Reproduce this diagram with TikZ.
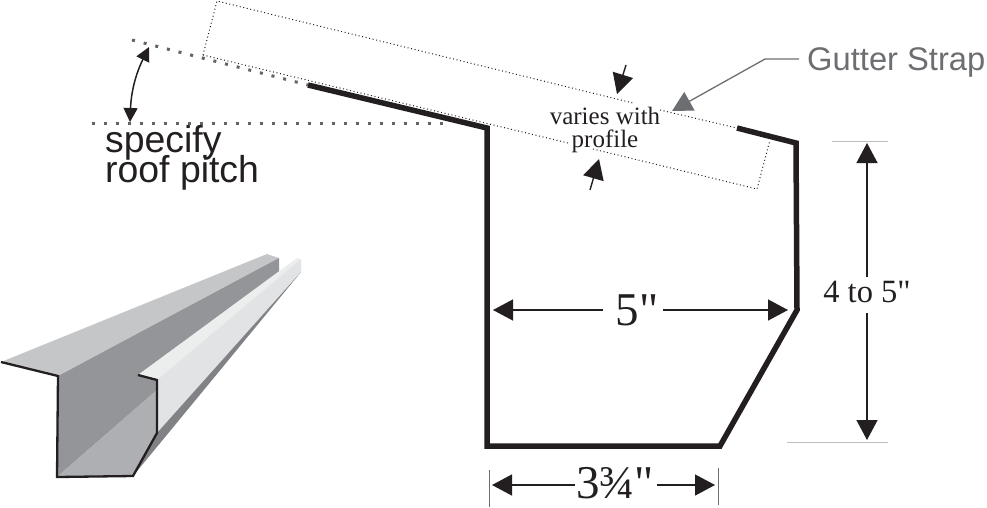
\documentclass[tikz,border=0pt]{standalone}
\usepackage{fontspec}
\newfontfamily\labelserif{Liberation Serif}
\newfontfamily\labelsans{Liberation Sans}
\usetikzlibrary{arrows.meta,positioning}
\definecolor{inkblack}{HTML}{231F20}
\definecolor{leadgray}{HTML}{6D6E71}
\definecolor{dotgray}{HTML}{636466}
\definecolor{tickgray}{HTML}{BCBEC0}
\definecolor{flangegray}{HTML}{C4C6C8}
\definecolor{wallgray}{HTML}{939598}
\definecolor{floorgray}{HTML}{ADAFB2}
\definecolor{lipgray}{HTML}{ECEDED}
\definecolor{facegray}{HTML}{E1E3E4}
\definecolor{undergray}{HTML}{808285}

\begin{document}
\begin{tikzpicture}[x=1pt,y=-1pt,>={Triangle[length=20pt,width=21pt]},inkblack]
\tikzstyle{gutter}=[line width=5.5pt,line join=miter]
\tikzstyle{strapline}=[line width=1pt,dash pattern=on 1pt off 2.6pt]
\tikzstyle{pitchline}=[line width=3pt,dotgray,dash pattern=on 3pt off 9pt]
\tikzstyle{dimline}=[line width=1.4pt]
\tikzstyle{tickline}=[line width=0.9pt,tickgray]
\tikzstyle{dimtext}=[inner sep=0pt,anchor=base]
\useasboundingbox (0,0) rectangle (987,507);

% gutter section
\coordinate (roofEnd)  at (308,85);
\coordinate (backTop)  at (487,128);
\coordinate (backBot)  at (487,446);
\coordinate (floorEnd) at (720,446);
\coordinate (frontBot) at (797,310);
\coordinate (frontTop) at (796,143);
\coordinate (strapEnd) at (737,128);
\draw[gutter] (roofEnd) -- (backTop) -- (backBot) -- (floorEnd) -- (frontBot) -- (frontTop) -- (strapEnd);

% strap outline
\coordinate (strapA) at (217,1);
\coordinate (strapB) at (203,55);
\coordinate (strapC) at (757,189);
\coordinate (strapD) at (770,140);
\coordinate (gapA)   at (633,103);
\coordinate (gapB)   at (660,110);
\coordinate (gapC)   at (568,143);
\coordinate (gapD)   at (593,149);
\draw[strapline] (strapB) -- (strapA) -- (gapA);
\draw[strapline] (gapB) -- (strapEnd);
\draw[strapline] (strapB) -- (gapC);
\draw[strapline] (gapD) -- (strapC) -- (strapD);

\node[dimtext,font=\labelserif\fontsize{25}{23}\selectfont,align=center] (varies) at (605,147) {varies with\\profile};
\coordinate (variesTail) at (626,65);
\coordinate (variesTip)  at (617,94);
\coordinate (profTail)   at (590,190);
\coordinate (profTip)    at (599,159);
\draw[->,dimline] (variesTail) -- (variesTip);
\draw[->,dimline] (profTail) -- (profTip);

% roof pitch
\coordinate (slopeEnd) at (132,40);
\coordinate (flatL)    at (92,123);
\coordinate (flatR)    at (445,123);
\coordinate (pitchTop) at (149,47);
\coordinate (pitchBot) at (130,122);
\draw[pitchline] (slopeEnd) -- (roofEnd);
\draw[pitchline] (flatL) -- (flatR);
\draw[{Triangle[length=14pt,width=14pt]}-{Triangle[length=14pt,width=14pt]},line width=1.5pt] (pitchTop) to[bend right=12] (pitchBot);
\node[font=\labelsans\fontsize{37.4}{30}\selectfont,align=left,inner sep=0pt,anchor=base west] (pitch) at (105,182) {specify\\[-6pt]roof pitch};

% gutter strap label
\node[font=\labelsans\fontsize{32.7}{36}\selectfont,text=leadgray,inner sep=0pt,anchor=base west] (strap) at (807,70) {Gutter Strap};
\coordinate (strapOut)  at (799,59);
\coordinate (strapBend) at (765,59);
\coordinate (strapTip)  at (672,111);
\draw[->,leadgray,line width=1.3pt] (strapOut) -- (strapBend) -- (strapTip);

% 5 inch
\node[dimtext,font=\labelserif\fontsize{47}{47}\selectfont] (five) at (637,325) {5"};
\coordinate (fiveL) at (493,310);
\coordinate (fiveR) at (788,310);
\coordinate (fiveLs) at (603,310);
\coordinate (fiveRs) at (663,310);
\draw[->,dimline] (fiveLs) -- (fiveL);
\draw[->,dimline] (fiveRs) -- (fiveR);

% 4 to 5 inch
\node[dimtext,font=\labelserif\fontsize{32.5}{33}\selectfont] (depth) at (867,302) {4 to 5"};
\coordinate (depthT) at (867,143);
\coordinate (depthB) at (867,440);
\coordinate (depthTs) at (867,277);
\coordinate (depthBs) at (867,313);
\draw[->,dimline] (depthTs) -- (depthT);
\draw[->,dimline] (depthBs) -- (depthB);
\coordinate (tickTa) at (832,141);
\coordinate (tickTb) at (888,141);
\coordinate (tickBa) at (787,442);
\coordinate (tickBb) at (888,442);
\draw[tickline] (tickTa) -- (tickTb);
\draw[tickline] (tickBa) -- (tickBb);

% 3 3/4 inch
\node[dimtext,font=\labelserif\fontsize{47}{47}\selectfont] (floor) at (615,498) {3¾"};
\coordinate (floorL) at (492,485);
\coordinate (floorR) at (715,485);
\coordinate (floorLs) at (575,485);
\coordinate (floorRs) at (657,485);
\draw[->,dimline] (floorLs) -- (floorL);
\draw[->,dimline] (floorRs) -- (floorR);
\coordinate (tickLa) at (489,470);
\coordinate (tickLb) at (489,507);
\coordinate (tickRa) at (718,468);
\coordinate (tickRb) at (718,505);
\draw[line width=0.8pt,leadgray] (tickLa) -- (tickLb);
\draw[line width=0.8pt,leadgray] (tickRa) -- (tickRb);

% small gutter view
\fill[flangegray] (1,362) -- (267,254) -- (279,258) -- (58,376) -- cycle;
\fill[wallgray] (58,376) -- (279,258) -- (279,272) -- (138,375) -- (157,380) -- (157,390) -- (57,477) -- cycle;
\fill[floorgray] (57,477) -- (157,390) -- (157,433) -- (133,476) -- cycle;
\fill[lipgray] (138,375) -- (297,258) -- (301,259) -- (157,380) -- cycle;
\fill[facegray] (157,380) -- (301,259) -- (301,272) -- (157,433) -- cycle;
\fill[undergray] (157,433) -- (301,272) -- (133,476) -- cycle;
\draw[line width=2.3pt] (1,362) -- (58,376) -- (57,477) -- (133,476) -- (157,433) -- (157,380) -- (138,375);
\end{tikzpicture}
\end{document}
